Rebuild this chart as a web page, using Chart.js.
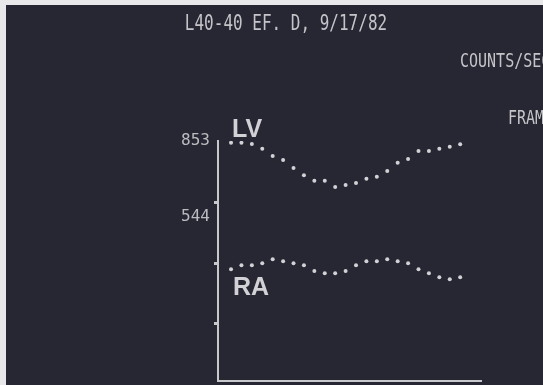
<!DOCTYPE html>
<html>
<head>
<meta charset="utf-8">
<script src="https://cdn.jsdelivr.net/npm/chart.js@4"></script>
<style>
  html, body { margin: 0; padding: 0; background: #262733; }
  #wrap { width: 543px; height: 385px; }
</style>
</head>
<body>
<div id="wrap"><canvas id="chart" width="543" height="385"></canvas></div>
<script>
const frames = [1, 2, 3, 4, 5, 6, 7, 8, 9, 10, 11, 12, 13, 14, 15, 16, 17, 18, 19, 20, 21, 22, 23];
const lvCounts = [846, 846, 841, 822, 792, 776, 744, 714, 692, 692, 667, 675, 683, 700, 708, 731, 765, 780, 812, 812, 822, 830, 840];
const raCounts = [334, 350, 350, 358, 374, 366, 358, 350, 326, 317, 317, 326, 350, 366, 366, 374, 366, 358, 334, 317, 301, 293, 301];
const tickLabels = [544, 853];
const tickMarks = [605, 357, 113];

const ink = '#d2d2d6';

// background, photo edge and the screen captions
const screenText = {
    id: 'screenText',
    beforeDraw(chart) {
        const ctx = chart.ctx;
        ctx.save();
        ctx.fillStyle = '#e8e8ea';
        ctx.fillRect(0, 0, chart.width, chart.height);
        ctx.fillStyle = '#262733';
        ctx.fillRect(6, 5, chart.width - 6, chart.height - 5);
        ctx.restore();
    },
    afterDraw(chart) {
        const ctx = chart.ctx;
        const mono = (txt, x, y, size, align) => {
            ctx.save();
            ctx.font = size + 'px "DejaVu Sans Mono"';
            ctx.fillStyle = '#c4c4c8';
            ctx.textAlign = align;
            ctx.textBaseline = 'alphabetic';
            ctx.translate(x, y);
            ctx.scale(1, 1.3);
            ctx.fillText(txt, 0, 0);
            ctx.restore();
        };
        mono('L40-40 EF. D, 9/17/82', 286, 30, 16, 'center');
        mono('COUNTS/SEC', 460, 67, 15, 'left');
        mono('FRAMES', 508, 124, 15, 'left');

        ctx.save();
        ctx.font = 'bold 25px "Liberation Sans"';
        ctx.fillStyle = ink;
        ctx.textAlign = 'left';
        ctx.fillText('LV', 232, 137);
        ctx.fillText('RA', 233, 295);
        ctx.restore();
    }
};

const dotStyle = {
    showLine: false,
    pointRadius: 2,
    pointHoverRadius: 2,
    pointBackgroundColor: ink,
    pointBorderWidth: 0
};

new Chart(document.getElementById('chart'), {
    type: 'scatter',
    data: {
        datasets: [
            Object.assign({ label: 'LV', data: frames.map((f, i) => ({ x: f, y: lvCounts[i] })) }, dotStyle),
            Object.assign({ label: 'RA', data: frames.map((f, i) => ({ x: f, y: raCounts[i] })) }, dotStyle)
        ]
    },
    options: {
        responsive: false,
        animation: false,
        layout: { padding: { left: 178, top: 141, right: 62, bottom: 4 } },
        plugins: { legend: { display: false }, tooltip: { enabled: false } },
        scales: {
            x: {
                type: 'linear',
                min: -0.25,
                max: 25,
                grid: { display: false, drawTicks: false },
                ticks: { display: false },
                border: { display: true, color: '#c8c8cc', width: 2 },
                afterFit: scale => { scale.height = 0; scale.paddingLeft = 0; scale.paddingRight = 0; }
            },
            y: {
                min: -119,
                max: 853,
                weight: 1,
                grid: { display: false, drawTicks: false },
                border: { display: true, color: '#c8c8cc', width: 2 },
                afterBuildTicks: scale => { scale.ticks = tickLabels.map(v => ({ value: v })); },
                ticks: {
                    color: '#bcbcc0',
                    padding: 8,
                    font: { family: 'DejaVu Sans Mono', size: 16 }
                },
                afterFit: scale => { scale.width = 40; scale.paddingTop = 0; scale.paddingBottom = 0; }
            },
            yMarks: {
                position: 'left',
                min: -119,
                max: 853,
                weight: 0,
                border: { display: false },
                grid: { drawOnChartArea: false, drawTicks: true, tickLength: 4, color: '#c8c8cc', lineWidth: 3 },
                afterBuildTicks: scale => { scale.ticks = tickMarks.map(v => ({ value: v })); },
                ticks: { display: false },
                afterFit: scale => { scale.width = 0; scale.paddingTop = 0; scale.paddingBottom = 0; }
            }
        }
    },
    plugins: [screenText]
});
</script>
</body>
</html>
